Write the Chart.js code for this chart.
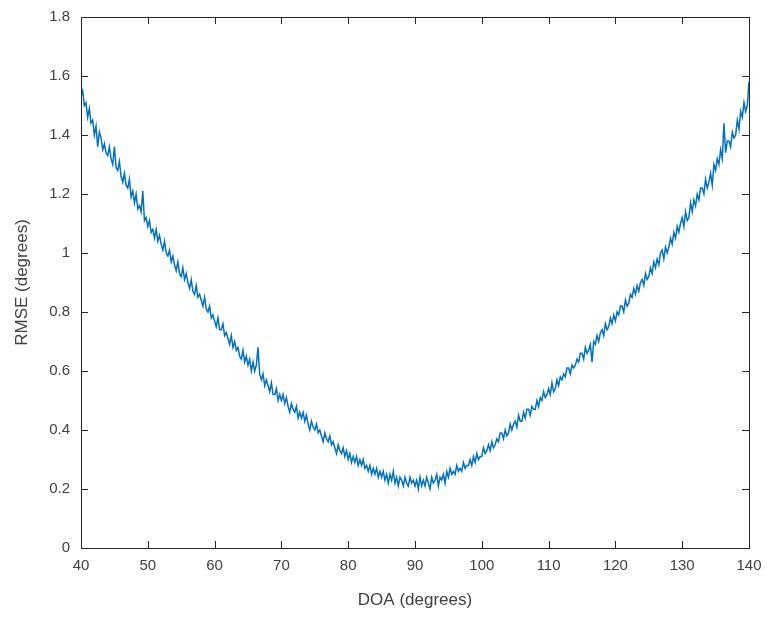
<!DOCTYPE html>
<html>
<head>
<meta charset="utf-8">
<script src="https://cdn.jsdelivr.net/npm/chart.js@4/dist/chart.umd.min.js"></script>
<style>
  html, body { margin: 0; padding: 0; background: #fff; }
  #wrap { width: 771px; height: 617px; }
</style>
</head>
<body>
<div id="wrap"><canvas id="rmseChart" width="771" height="617"></canvas></div>
<script>
// DOA grid, 0.25 degree step
const doaStart = 40;
const doaStep = 0.25;

// RMSE (degrees), one row per degree
const rmse = [
  1.53, 1.55, 1.50, 1.51,   // 40
  1.46, 1.49, 1.44, 1.45,
  1.40, 1.43, 1.36, 1.41,
  1.39, 1.35, 1.37, 1.34,
  1.33, 1.36, 1.32, 1.30,
  1.36, 1.29, 1.28, 1.31,   // 45
  1.26, 1.24, 1.27, 1.23,
  1.22, 1.25, 1.19, 1.21,
  1.17, 1.20, 1.15, 1.16,
  1.14, 1.21, 1.11, 1.12,
  1.09, 1.11, 1.07, 1.08,   // 50
  1.05, 1.08, 1.04, 1.06,
  1.03, 1.01, 1.04, 1.00,
  0.99, 1.01, 0.97, 0.99,
  0.96, 0.94, 0.97, 0.93,
  0.92, 0.95, 0.91, 0.93,   // 55
  0.90, 0.88, 0.91, 0.87,
  0.86, 0.89, 0.85, 0.86,
  0.84, 0.82, 0.85, 0.81,
  0.80, 0.82, 0.78, 0.79,
  0.77, 0.75, 0.78, 0.74,   // 60
  0.74, 0.76, 0.72, 0.73,
  0.71, 0.69, 0.72, 0.68,
  0.70, 0.67, 0.68, 0.65,
  0.64, 0.67, 0.63, 0.65,
  0.62, 0.64, 0.60, 0.63,   // 65
  0.60, 0.62, 0.68, 0.59,
  0.57, 0.59, 0.55, 0.57,
  0.55, 0.53, 0.56, 0.52,
  0.52, 0.54, 0.50, 0.52,
  0.50, 0.52, 0.49, 0.51,   // 70
  0.48, 0.46, 0.49, 0.47,
  0.46, 0.48, 0.44, 0.46,
  0.44, 0.46, 0.43, 0.45,
  0.42, 0.40, 0.43, 0.41,
  0.40, 0.42, 0.39, 0.40,   // 75
  0.38, 0.36, 0.39, 0.37,
  0.36, 0.38, 0.35, 0.36,
  0.34, 0.32, 0.35, 0.33,
  0.32, 0.34, 0.31, 0.33,
  0.30, 0.32, 0.29, 0.31,   // 80
  0.29, 0.31, 0.28, 0.30,
  0.28, 0.30, 0.27, 0.28,
  0.26, 0.28, 0.25, 0.27,
  0.25, 0.27, 0.24, 0.26,
  0.24, 0.26, 0.23, 0.25,   // 85
  0.22, 0.25, 0.23, 0.26,
  0.22, 0.24, 0.21, 0.24,
  0.23, 0.21, 0.24, 0.22,
  0.21, 0.24, 0.22, 0.23,
  0.21, 0.23, 0.20, 0.24,   // 90
  0.21, 0.23, 0.21, 0.24,
  0.22, 0.20, 0.24, 0.22,
  0.23, 0.25, 0.21, 0.24,
  0.23, 0.25, 0.22, 0.26,
  0.24, 0.27, 0.25, 0.26,   // 95
  0.25, 0.28, 0.26, 0.27,
  0.26, 0.29, 0.27, 0.28,
  0.28, 0.30, 0.28, 0.31,
  0.29, 0.32, 0.30, 0.31,
  0.31, 0.34, 0.32, 0.33,   // 100
  0.35, 0.33, 0.36, 0.34,
  0.35, 0.37, 0.36, 0.39,
  0.39, 0.37, 0.40, 0.38,
  0.39, 0.42, 0.40, 0.42,
  0.43, 0.41, 0.45, 0.43,   // 105
  0.43, 0.46, 0.44, 0.47,
  0.47, 0.45, 0.48, 0.47,
  0.47, 0.50, 0.48, 0.51,
  0.50, 0.53, 0.51, 0.52,
  0.54, 0.52, 0.56, 0.53,   // 110
  0.54, 0.57, 0.55, 0.58,
  0.57, 0.59, 0.58, 0.61,
  0.61, 0.59, 0.62, 0.61,
  0.62, 0.64, 0.63, 0.66,
  0.66, 0.64, 0.68, 0.66,   // 115
  0.67, 0.69, 0.63, 0.70,
  0.69, 0.72, 0.70, 0.73,
  0.74, 0.72, 0.76, 0.74,
  0.75, 0.78, 0.76, 0.79,
  0.77, 0.80, 0.79, 0.82,   // 120
  0.82, 0.80, 0.84, 0.82,
  0.83, 0.86, 0.85, 0.88,
  0.86, 0.89, 0.87, 0.90,
  0.91, 0.89, 0.93, 0.91,
  0.92, 0.95, 0.93, 0.97,   // 125
  0.95, 0.98, 0.96, 1.00,
  1.01, 0.98, 1.02, 1.00,
  1.02, 1.05, 1.03, 1.07,
  1.05, 1.09, 1.07, 1.10,
  1.12, 1.09, 1.14, 1.11,   // 130
  1.12, 1.17, 1.14, 1.18,
  1.16, 1.20, 1.18, 1.22,
  1.22, 1.20, 1.25, 1.22,
  1.24, 1.27, 1.23, 1.30,
  1.28, 1.32, 1.30, 1.35,   // 135
  1.32, 1.44, 1.34, 1.38,
  1.38, 1.36, 1.41, 1.39,
  1.40, 1.45, 1.42, 1.48,
  1.46, 1.51, 1.48, 1.50,
  1.58                      // 140
];

const xTicks = [40, 50, 60, 70, 80, 90, 100, 110, 120, 130, 140];
const yTicks = [0, 0.2, 0.4, 0.6, 0.8, 1, 1.2, 1.4, 1.6, 1.8];

const points = rmse.map((v, i) => ({ x: doaStart + i * doaStep, y: v }));

const FONT = "'Liberation Sans', Arial, Helvetica, sans-serif";
const AXIS_COLOR = '#262626';
const LABEL_COLOR = '#404040';

// MATLAB-style box with inward ticks on all four sides
const boxTicks = {
  id: 'boxTicks',
  afterDraw(chart) {
    const { ctx, chartArea: a, scales } = chart;
    const len = 7;
    ctx.save();
    ctx.strokeStyle = AXIS_COLOR;
    ctx.lineWidth = 1;
    ctx.beginPath();
    scales.x.ticks.forEach(t => {
      const px = Math.round(scales.x.getPixelForValue(t.value)) + 0.5;
      ctx.moveTo(px, a.bottom); ctx.lineTo(px, a.bottom - len);
      ctx.moveTo(px, a.top); ctx.lineTo(px, a.top + len);
    });
    scales.y.ticks.forEach(t => {
      const py = Math.round(scales.y.getPixelForValue(t.value)) + 0.5;
      ctx.moveTo(a.left, py); ctx.lineTo(a.left + len, py);
      ctx.moveTo(a.right, py); ctx.lineTo(a.right - len, py);
    });
    ctx.stroke();
    ctx.strokeRect(Math.round(a.left) + 0.5, Math.round(a.top) + 0.5,
      Math.round(a.right - a.left), Math.round(a.bottom - a.top));
    ctx.restore();
  }
};

new Chart(document.getElementById('rmseChart'), {
  type: 'line',
  data: {
    datasets: [{
      data: points,
      borderColor: '#0072BD',
      borderWidth: 1.5,
      pointRadius: 0,
      tension: 0,
      fill: false
    }]
  },
  options: {
    responsive: false,
    animation: false,
    layout: { padding: { top: 17, right: 22, left: 0, bottom: 0 } },
    plugins: { legend: { display: false }, tooltip: { enabled: false } },
    scales: {
      x: {
        type: 'linear', min: 40, max: 140,
        afterBuildTicks: s => { s.ticks = xTicks.map(v => ({ value: v })); },
        afterFit: s => { s.height = 69; s.paddingLeft = 0; s.paddingRight = 0; },
        grid: { display: false, drawTicks: false },
        border: { display: false },
        ticks: { color: LABEL_COLOR, font: { family: FONT, size: 15 }, padding: 9, maxRotation: 0 },
        title: { display: true, text: 'DOA (degrees)', color: LABEL_COLOR,
                 font: { family: FONT, size: 17 }, padding: { top: 4, bottom: 6 } }
      },
      y: {
        type: 'linear', min: 0, max: 1.8,
        afterBuildTicks: s => { s.ticks = yTicks.map(v => ({ value: v })); },
        afterFit: s => { s.width = 81; s.paddingTop = 0; s.paddingBottom = 0; },
        grid: { display: false, drawTicks: false },
        border: { display: false },
        ticks: { color: LABEL_COLOR, font: { family: FONT, size: 15 }, padding: 11,
                 callback: v => String(Math.round(v * 10) / 10) },
        title: { display: true, text: 'RMSE (degrees)', color: LABEL_COLOR,
                 font: { family: FONT, size: 17 }, padding: { top: 12, bottom: 0 } }
      }
    }
  },
  plugins: [boxTicks]
});
</script>
</body>
</html>
